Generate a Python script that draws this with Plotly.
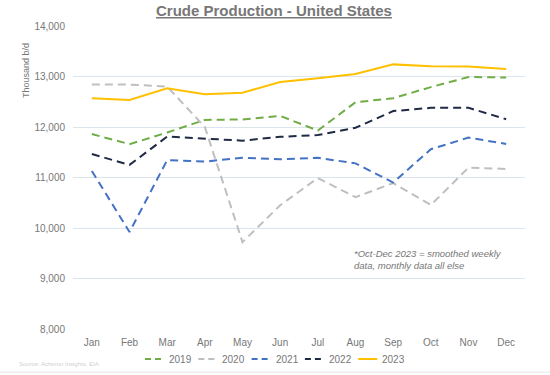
import plotly.graph_objects as go

months = ["Jan", "Feb", "Mar", "Apr", "May", "Jun", "Jul", "Aug", "Sep", "Oct", "Nov", "Dec"]
y2019 = [11860, 11660, 11890, 12140, 12150, 12220, 11930, 12490, 12570, 12790, 12990, 12980]
y2020 = [12840, 12840, 12800, 12000, 9720, 10450, 10990, 10610, 10890, 10455, 11195, 11170]
y2021 = [11130, 9920, 11345, 11315, 11390, 11360, 11390, 11280, 10900, 11560, 11790, 11665]
y2022 = [11465, 11250, 11810, 11765, 11730, 11805, 11840, 11985, 12315, 12380, 12380, 12155]
y2023 = [12570, 12535, 12765, 12648, 12680, 12890, 12965, 13050, 13240, 13205, 13200, 13150]
y_ticks = [8000, 9000, 10000, 11000, 12000, 13000, 14000]

series = [
    ("2019", y2019, "#70AD47", "8px,5px"),
    ("2020", y2020, "#BFBFBF", "8px,5px"),
    ("2021", y2021, "#4472C4", "8px,5px"),
    ("2022", y2022, "#1F2A44", "8px,5px"),
    ("2023", y2023, "#FFC000", "solid"),
]

fig = go.Figure()
for name, vals, color, dash in series:
    fig.add_trace(go.Scatter(
        x=months, y=vals, name=name, mode="lines",
        line=dict(color=color, width=2, dash=dash),
    ))

gray = "#777777"
L, R, T, B = 73, 525, 26, 329
W, H = R - L, B - T


def px(x):
    return (x - L) / W


def py(y):
    return (B - y) / H


fig.update_layout(
    width=550, height=375,
    margin=dict(l=L, r=550 - R, t=T, b=375 - B, autoexpand=False),
    paper_bgcolor="white", plot_bgcolor="white",
    font=dict(family="Liberation Sans, Arial, sans-serif", color=gray, size=10),
    showlegend=False,
    xaxis=dict(
        range=[-0.5, 11.5], automargin=False,
        showgrid=False, showline=False, zeroline=False, ticks="",
        tickfont=dict(size=10, color=gray), ticklabelstandoff=6,
    ),
    yaxis=dict(
        range=[8000, 14000], tickvals=y_ticks, tickformat=",", automargin=False,
        showgrid=True, gridcolor="#DCE4EC", gridwidth=1,
        zeroline=False, showline=False, ticks="",
        tickfont=dict(size=10, color=gray), ticklabelstandoff=7,
    ),
)

# legend drawn below the plot (short line samples + labels)
leg_y = 359
for i, (name, vals, color, dash) in enumerate(series):
    x0 = 145 + 53.3 * i
    fig.add_shape(
        type="line", xref="paper", yref="paper",
        x0=px(x0), x1=px(x0 + 19), y0=py(leg_y), y1=py(leg_y),
        line=dict(color=color, width=2, dash="6px,4px" if dash != "solid" else "solid"),
    )
    fig.add_annotation(
        text=name, xref="paper", yref="paper", x=px(x0 + 22), y=py(leg_y),
        xanchor="left", yanchor="middle", showarrow=False,
        font=dict(size=10, color=gray),
    )

fig.add_annotation(
    text="<b><u>Crude Production - United States</u></b>",
    xref="paper", yref="paper", x=px(274), y=py(0), xanchor="center", yanchor="top",
    showarrow=False, font=dict(size=15, color=gray),
)
fig.add_annotation(
    text="Thousand b/d", textangle=-90,
    xref="paper", yref="paper", x=px(26), y=py(71),
    xanchor="center", yanchor="middle", showarrow=False,
    font=dict(size=9, color=gray),
)
fig.add_annotation(
    text="<i>*Oct-Dec 2023 = smoothed weekly<br>data, monthly data all else</i>",
    xref="paper", yref="paper", x=px(352), y=py(246),
    xanchor="left", yanchor="top", align="left", showarrow=False,
    font=dict(size=9.5, color=gray),
)
fig.add_annotation(
    text="Source: Acheron Insights, EIA",
    xref="paper", yref="paper", x=px(17), y=py(359),
    xanchor="left", yanchor="top", showarrow=False,
    font=dict(size=6, color="#D0D0D0"),
)
fig.add_shape(
    type="line", xref="paper", yref="paper",
    x0=px(0), x1=px(550), y0=py(372), y1=py(372),
    line=dict(color="#E6E6E6", width=1),
)

fig.write_html(
    "out.html",
    config={"displayModeBar": False},
    post_script="document.body.style.margin='0';",
)
